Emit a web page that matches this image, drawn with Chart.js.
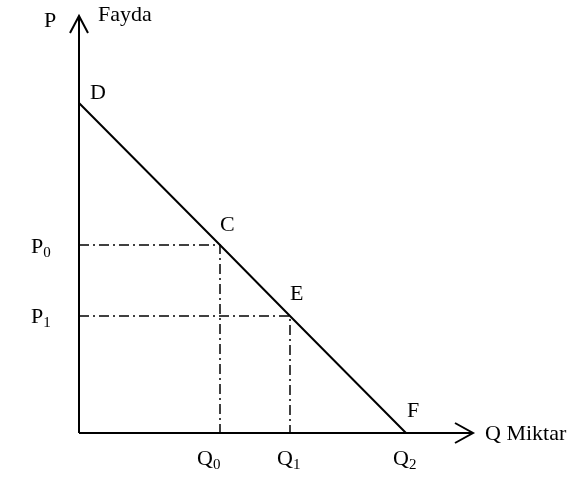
<!DOCTYPE html>
<html>
<head>
<meta charset="utf-8">
<script src="https://cdn.jsdelivr.net/npm/chart.js@4/dist/chart.umd.min.js"></script>
<style>
  body { margin: 0; background: #fff; }
  #wrap { width: 572px; height: 480px; }
</style>
</head>
<body>
<div id="wrap"><canvas id="chartDemand"></canvas></div>
<script>
// values (abstract units)
var pointNames = ['D', 'C', 'E', 'F'];
var quantities = [0, 141, 211, 327];   // D, C(Q0), E(Q1), F(Q2)
var prices     = [330, 188, 117, 0];   // D, C(P0), E(P1), F
var axisMax    = { x: 394, y: 417 };

var demandPts = quantities.map(function(q, i) { return { x: q, y: prices[i] }; });
var C = demandPts[1], E = demandPts[2];

// text labels: anchor point + pixel offset of the text's left baseline
var labels = [
    { text: 'P',        at: { x: 0, y: axisMax.y }, dx: -35, dy: 11 },
    { text: 'Fayda',    at: { x: 0, y: axisMax.y }, dx: 19,  dy: 5 },
    { text: 'D',        at: demandPts[0], dx: 11, dy: -4 },
    { text: 'C',        at: C, dx: 0, dy: -14 },
    { text: 'E',        at: E, dx: 0, dy: -16 },
    { text: 'F',        at: demandPts[3], dx: 1, dy: -16 },
    { text: 'P', sub: '0', at: { x: 0, y: C.y }, dx: -48, dy: 8 },
    { text: 'P', sub: '1', at: { x: 0, y: E.y }, dx: -48, dy: 7 },
    { text: 'Q', sub: '0', at: { x: C.x, y: 0 }, dx: -23, dy: 32 },
    { text: 'Q', sub: '1', at: { x: E.x, y: 0 }, dx: -13, dy: 32 },
    { text: 'Q', sub: '2', at: { x: demandPts[3].x, y: 0 }, dx: -13, dy: 32 },
    { text: 'Q Miktar', at: { x: axisMax.x, y: 0 }, dx: 12, dy: 7 }
];

var serif = '"Liberation Serif", "Times New Roman", serif';

var dashDot = [10, 4, 2, 4];

var arrowsAndText = {
    id: 'arrowsAndText',
    afterDatasetsDraw: function(chart) {
        var ctx = chart.ctx, xs = chart.scales.x, ys = chart.scales.y;
        ctx.save();
        ctx.strokeStyle = '#000';
        ctx.lineWidth = 2;
        // arrow heads on the axes
        var tx = xs.getPixelForValue(0), ty = ys.getPixelForValue(axisMax.y);
        ctx.beginPath();
        ctx.moveTo(tx - 9, ty + 17); ctx.lineTo(tx, ty); ctx.lineTo(tx + 9, ty + 17);
        ctx.stroke();
        tx = xs.getPixelForValue(axisMax.x); ty = ys.getPixelForValue(0);
        ctx.beginPath();
        ctx.moveTo(tx - 18, ty - 10); ctx.lineTo(tx, ty); ctx.lineTo(tx - 18, ty + 10);
        ctx.stroke();

        // labels
        ctx.fillStyle = '#000';
        ctx.textBaseline = 'alphabetic';
        ctx.textAlign = 'left';
        labels.forEach(function(l) {
            var x = xs.getPixelForValue(l.at.x) + l.dx;
            var y = ys.getPixelForValue(l.at.y) + l.dy;
            ctx.font = '22px ' + serif;
            ctx.fillText(l.text, x, y);
            if (l.sub) {
                var w = ctx.measureText(l.text).width;
                ctx.font = '15px ' + serif;
                ctx.fillText(l.sub, x + w, y + 4);
            }
        });
        ctx.restore();
    }
};

var ctx = document.getElementById('chartDemand');
var myDemandChart = new Chart(ctx, {
    type: 'scatter',
    data: {
        datasets: [{
            label: 'Talep',
            data: demandPts,
            showLine: true,
            borderColor: '#000',
            borderWidth: 2,
            pointRadius: 0
        },{
            label: 'P ekseni',
            data: [{ x: 0, y: 0 }, { x: 0, y: axisMax.y }],
            showLine: true,
            borderColor: '#000',
            borderWidth: 2,
            pointRadius: 0
        },{
            label: 'Q ekseni',
            data: [{ x: 0, y: 0 }, { x: axisMax.x, y: 0 }],
            showLine: true,
            borderColor: '#000',
            borderWidth: 2,
            pointRadius: 0
        },{
            label: 'C',
            data: [{ x: 0, y: C.y }, { x: C.x, y: C.y }, { x: C.x, y: 0 }],
            showLine: true,
            borderColor: '#000',
            borderWidth: 1.5,
            borderDash: dashDot,
            pointRadius: 0
        },{
            label: 'E',
            data: [{ x: 0, y: E.y }, { x: E.x, y: E.y }, { x: E.x, y: 0 }],
            showLine: true,
            borderColor: '#000',
            borderWidth: 1.5,
            borderDash: dashDot,
            pointRadius: 0
        }]
    },
    options: {
        responsive: true,
        maintainAspectRatio: false,
        animation: false,
        clip: false,
        layout: { padding: { left: 79, right: 99, top: 16, bottom: 47 } },
        scales: {
            x: { type: 'linear', min: 0, max: axisMax.x, display: false },
            y: { type: 'linear', min: 0, max: axisMax.y, display: false }
        },
        plugins: {
            legend: { display: false },
            tooltip: { enabled: false }
        }
    },
    plugins: [arrowsAndText]
});
</script>
</body>
</html>
